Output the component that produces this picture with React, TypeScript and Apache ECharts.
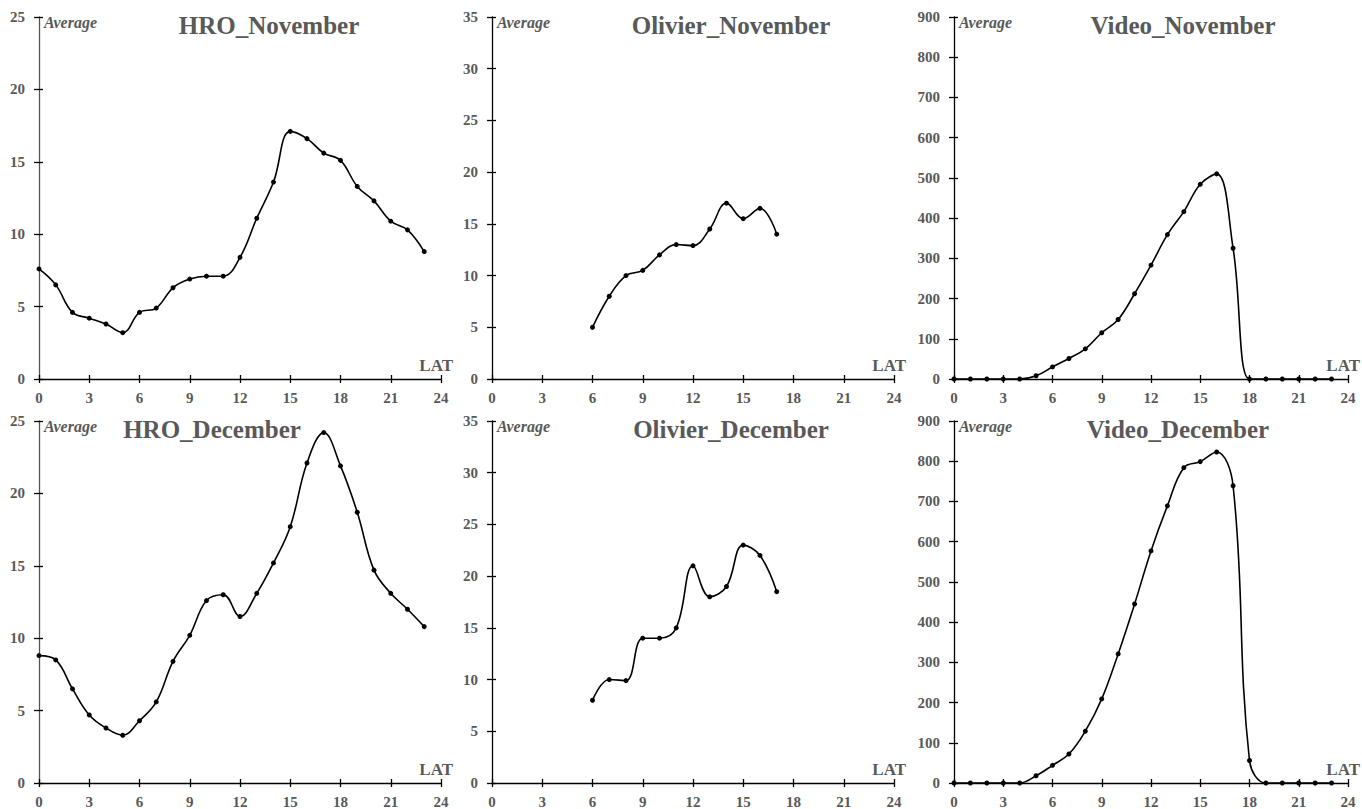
import React, { useEffect, useRef } from "react";
import * as echarts from "echarts";

// Local apparent time (hours) for the full-day series and for the Olivier series
const HOURS = [0, 1, 2, 3, 4, 5, 6, 7, 8, 9, 10, 11, 12, 13, 14, 15, 16, 17, 18, 19, 20, 21, 22, 23];
const OLIVIER_HOURS = [6, 7, 8, 9, 10, 11, 12, 13, 14, 15, 16, 17];

// Hourly averages
const HRO_NOVEMBER = [7.6, 6.5, 4.6, 4.2, 3.8, 3.2, 4.6, 4.9, 6.3, 6.9, 7.1, 7.1, 8.4, 11.1, 13.6, 17.1, 16.6, 15.6, 15.1, 13.3, 12.3, 10.9, 10.3, 8.8];
const HRO_DECEMBER = [8.8, 8.5, 6.5, 4.7, 3.8, 3.3, 4.3, 5.6, 8.4, 10.2, 12.6, 13.0, 11.5, 13.1, 15.2, 17.7, 22.1, 24.2, 21.9, 18.7, 14.7, 13.1, 12.0, 10.8];
const OLIVIER_NOVEMBER = [5.0, 8.0, 10.0, 10.5, 12.0, 13.0, 12.9, 14.5, 17.0, 15.5, 16.5, 14.0];
const OLIVIER_DECEMBER = [8.0, 10.0, 9.9, 14.0, 14.0, 15.0, 21.0, 18.0, 19.0, 23.0, 22.0, 18.5];
const VIDEO_NOVEMBER = [0, 0, 0, 0, 0, 8, 30, 51, 75, 115, 148, 212, 283, 359, 416, 484, 510, 325, 0, 0, 0, 0, 0, 0];
const VIDEO_DECEMBER = [0, 0, 0, 0, 0, 18, 44, 72, 129, 209, 321, 445, 577, 689, 784, 799, 823, 739, 56, 0, 0, 0, 0, 0];

// Axis ranges
const Y_MAX = { hro: 25, olivier: 35, video: 900 };
const Y_STEP = { hro: 5, olivier: 5, video: 100 };
const X_MAX = 24;
const X_STEP = 3;

type Panel = {
  title: string;
  xs: number[];
  ys: number[];
  kind: "hro" | "olivier" | "video";
  row: number;
  col: number;
};

const PANELS: Panel[] = [
  { title: "HRO_November", xs: HOURS, ys: HRO_NOVEMBER, kind: "hro", row: 0, col: 0 },
  { title: "Olivier_November", xs: OLIVIER_HOURS, ys: OLIVIER_NOVEMBER, kind: "olivier", row: 0, col: 1 },
  { title: "Video_November", xs: HOURS, ys: VIDEO_NOVEMBER, kind: "video", row: 0, col: 2 },
  { title: "HRO_December", xs: HOURS, ys: HRO_DECEMBER, kind: "hro", row: 1, col: 0 },
  { title: "Olivier_December", xs: OLIVIER_HOURS, ys: OLIVIER_DECEMBER, kind: "olivier", row: 1, col: 1 },
  { title: "Video_December", xs: HOURS, ys: VIDEO_DECEMBER, kind: "video", row: 1, col: 2 },
];

// Layout (pixels)
const COLS = [
  { left: 39, width: 402 },
  { left: 492, width: 402 },
  { left: 954, width: 394 },
];
const ROWS = [
  { top: 17, height: 362 },
  { top: 421, height: 362 },
];
const TITLE_X = [
  [269, 731, 1183],
  [212, 731, 1178],
];

const FONT = "'Liberation Serif', 'Times New Roman', serif";
const GREY = "#595959";

function buildOption() {
  const grid: any[] = [];
  const xAxis: any[] = [];
  const yAxis: any[] = [];
  const series: any[] = [];
  const graphic: any[] = [];

  PANELS.forEach((p, i) => {
    const c = COLS[p.col];
    const r = ROWS[p.row];
    grid.push({ left: c.left, top: r.top, width: c.width, height: r.height, containLabel: false });

    const yLineColor = p.kind === "hro" ? "#555555" : "#000000";
    const label = { color: GREY, fontWeight: "bold", fontSize: 15, fontFamily: FONT };

    // x axis: outer ticks with labels, then inner ticks so they cross the line
    xAxis.push({
      type: "value", gridIndex: i, position: "bottom", min: 0, max: X_MAX, interval: X_STEP,
      axisLine: { show: true, onZero: false, lineStyle: { color: "#000", width: 1.3 } },
      axisTick: { show: true, length: 4, lineStyle: { color: "#000", width: 1.3 } },
      axisLabel: { ...label, margin: 11 },
      splitLine: { show: false },
    });
    xAxis.push({
      type: "value", gridIndex: i, position: "bottom", min: 0, max: X_MAX, interval: X_STEP,
      axisLine: { show: false },
      axisTick: { show: true, inside: true, length: 4, lineStyle: { color: "#000", width: 1.3 } },
      axisLabel: { show: false },
      splitLine: { show: false },
    });

    yAxis.push({
      type: "value", gridIndex: i, position: "left", min: 0, max: Y_MAX[p.kind], interval: Y_STEP[p.kind],
      axisLine: { show: true, onZero: false, lineStyle: { color: yLineColor, width: 1.3 } },
      axisTick: { show: true, length: 5, lineStyle: { color: "#000", width: 1.3 } },
      axisLabel: { ...label, margin: 14 },
      splitLine: { show: false },
    });
    yAxis.push({
      type: "value", gridIndex: i, position: "left", min: 0, max: Y_MAX[p.kind], interval: Y_STEP[p.kind],
      axisLine: { show: false },
      axisTick: { show: true, inside: true, length: 4, lineStyle: { color: "#000", width: 1.3 } },
      axisLabel: { show: false },
      splitLine: { show: false },
    });

    series.push({
      type: "line",
      name: p.title,
      xAxisIndex: 2 * i,
      yAxisIndex: 2 * i,
      data: p.xs.map((x, k) => [x, p.ys[k]]),
      smooth: 0.4,
      symbol: "circle",
      symbolSize: 5,
      itemStyle: { color: "#000" },
      lineStyle: { color: "#000", width: 1.6 },
      clip: false,
    });

    graphic.push({
      type: "text",
      x: TITLE_X[p.row][p.col],
      y: r.top + 8,
      style: {
        text: p.title, fill: GREY, font: `bold 25px ${FONT}`,
        align: "center", verticalAlign: "middle",
      },
    });
    graphic.push({
      type: "text",
      x: c.left + 5,
      y: r.top + 5,
      style: {
        text: "Average", fill: GREY, font: `italic bold 16px ${FONT}`,
        align: "left", verticalAlign: "middle",
      },
    });
    graphic.push({
      type: "text",
      x: c.left + c.width + 12,
      y: r.top + r.height - 14,
      style: {
        text: "LAT", fill: GREY, font: `bold 17px ${FONT}`,
        align: "right", verticalAlign: "middle",
      },
    });
  });

  return {
    animation: false,
    backgroundColor: "#ffffff",
    grid,
    xAxis,
    yAxis,
    series,
    graphic,
  };
}

export default function App() {
  const ref = useRef<HTMLDivElement>(null);

  useEffect(() => {
    if (!ref.current) return;
    const chart = echarts.init(ref.current, undefined, { renderer: "svg" });
    chart.setOption(buildOption());
    return () => chart.dispose();
  }, []);

  return (
    <div
      ref={ref}
      style={{ position: "absolute", left: 0, top: 0, width: 1362, height: 809, background: "#fff" }}
    />
  );
}
